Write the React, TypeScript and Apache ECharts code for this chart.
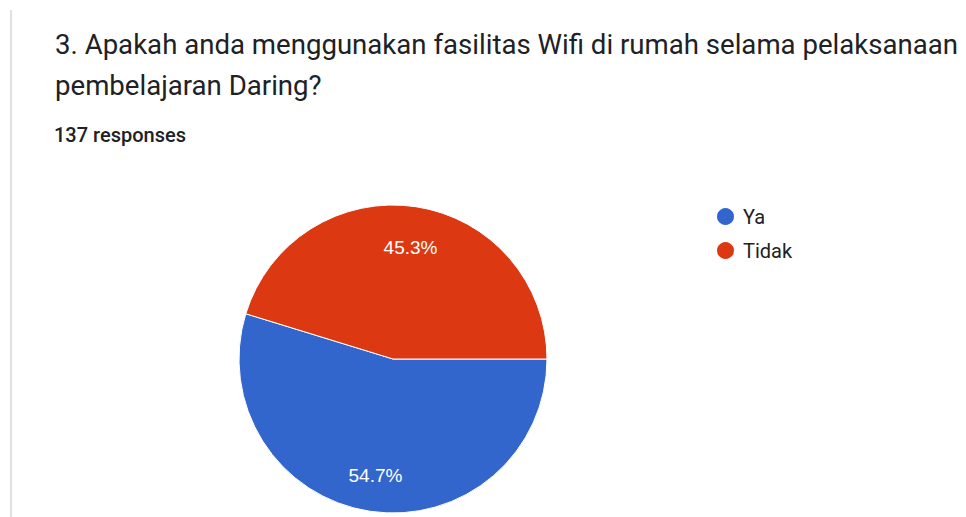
import React, { useEffect, useRef } from "react";
import * as echarts from "echarts";

const titleLines = [
  "3. Apakah anda menggunakan fasilitas Wifi di rumah selama pelaksanaan",
  "pembelajaran Daring?",
];
const responsesText = "137 responses";
const categories = ["Ya", "Tidak"];
const counts = [75, 62];
const colors = ["#3366cc", "#dc3912"];

export default function App() {
  const ref = useRef<HTMLDivElement>(null);
  useEffect(() => {
    if (!ref.current) return;
    const chart = echarts.init(ref.current, null, { renderer: "svg" });
    const data = categories.map((name, i) => ({
      name,
      value: counts[i],
      itemStyle: { color: colors[i] },
    }));
    const total = counts.reduce((a, b) => a + b, 0);
    const labelOffsets = [[0, 0], [0, 5]];
    chart.setOption({
      animation: false,
      backgroundColor: "#ffffff",
      title: [
        {
          text: titleLines.join("\n"),
          left: 55,
          top: 24,
          padding: 0,
          textStyle: {
            fontFamily: "Roboto",
            fontSize: 27.6,
            fontWeight: "normal",
            color: "#202124",
            lineHeight: 41,
          },
        },
        {
          text: responsesText,
          left: 54,
          top: 125,
          padding: 0,
          textStyle: {
            fontFamily: "Roboto",
            fontSize: 20,
            fontWeight: 500,
            color: "#202124",
          },
        },
      ],
      legend: {
        orient: "vertical",
        left: 715,
        top: 206,
        padding: 0,
        icon: "circle",
        itemWidth: 19,
        itemHeight: 19,
        itemGap: 13,
        data: categories,
        textStyle: {
          fontFamily: "Roboto",
          fontSize: 20,
          lineHeight: 20,
          fontWeight: "normal",
          color: "#222222",
          padding: [0, 0, 0, 3],
        },
      },
      graphic: [
        {
          type: "line",
          shape: { x1: 11, y1: 10, x2: 11, y2: 517 },
          style: { stroke: "#e0e0e0", lineWidth: 2 },
        },
      ],
      series: [
        {
          type: "pie",
          center: [393, 359],
          radius: [0, 154],
          startAngle: 0,
          clockwise: true,
          data,
          label: { show: false },
          labelLine: { show: false },
          itemStyle: { borderColor: "#ffffff", borderWidth: 1 },
          emphasis: { disabled: true },
        },
        {
          type: "pie",
          center: [393, 359],
          radius: [0, 230],
          startAngle: 0,
          clockwise: true,
          silent: true,
          data: categories.map((name, i) => ({
            name,
            value: counts[i],
            itemStyle: { color: "rgba(0,0,0,0)" },
            label: { offset: labelOffsets[i] },
          })),
          label: {
            show: true,
            position: "inner",
            formatter: (p: any) => ((p.value / total) * 100).toFixed(1) + "%",
            color: "#ffffff",
            fontFamily: "Arial, Liberation Sans",
            fontSize: 19,
          },
          labelLine: { show: false },
          emphasis: { disabled: true },
          z: 3,
        },
      ],
    });
    return () => chart.dispose();
  }, []);
  return (
    <div
      ref={ref}
      style={{ position: "fixed", left: 0, top: 0, width: 966, height: 517 }}
    />
  );
}
